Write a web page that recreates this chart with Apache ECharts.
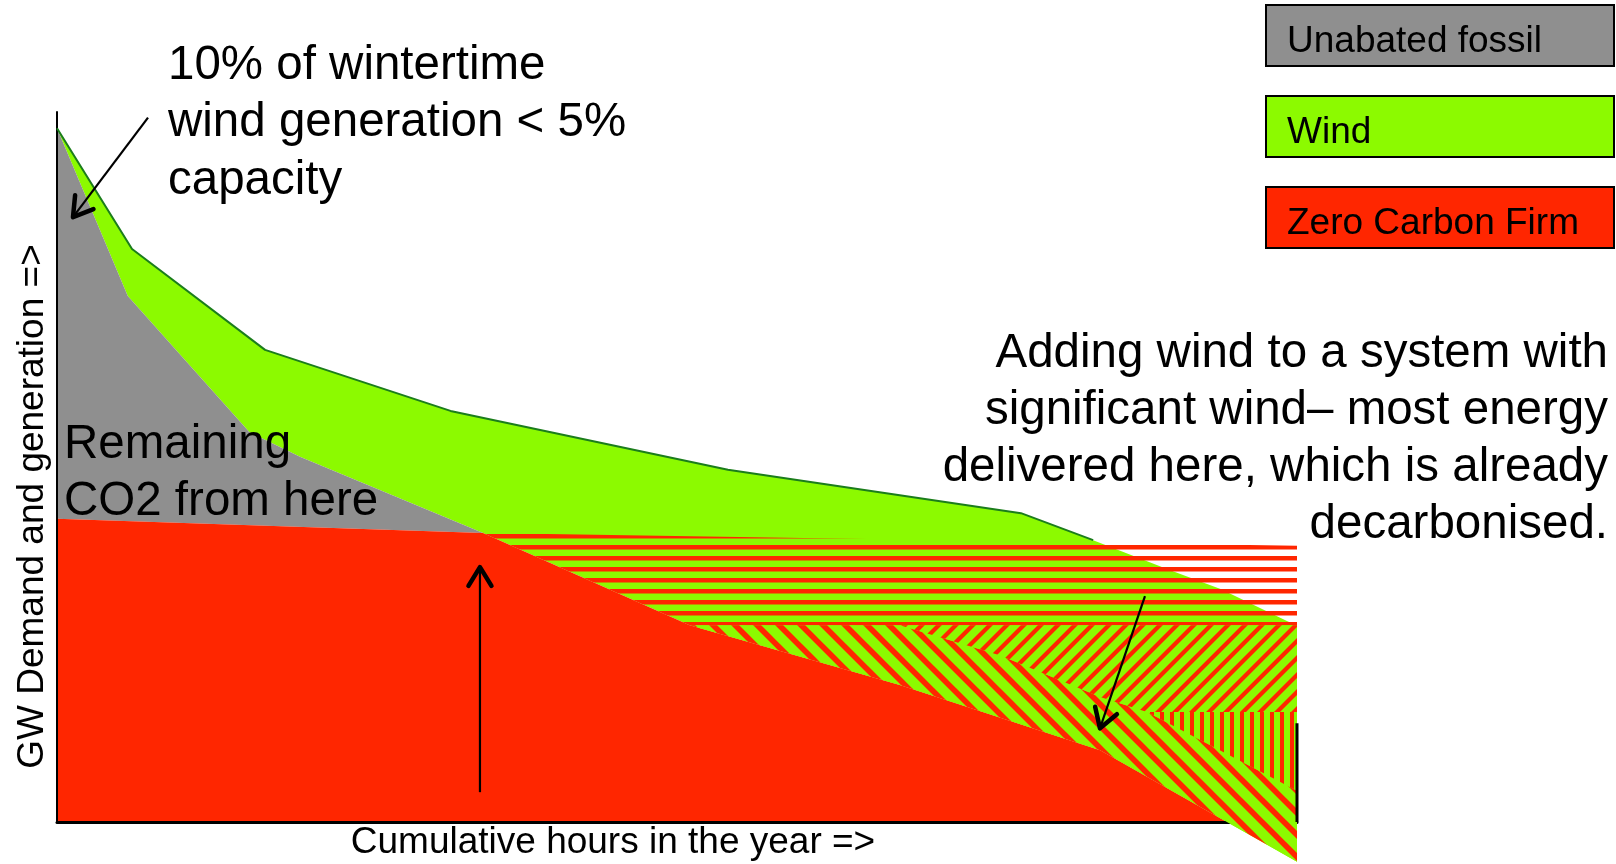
<!DOCTYPE html>
<html><head><meta charset="utf-8">
<script src="https://cdn.jsdelivr.net/npm/echarts@6/dist/echarts.min.js"></script>
<style>html,body{margin:0;padding:0;background:#fff}#c{width:1616px;height:864px}</style>
</head><body><div id="c"></div>
<script>
// x: cumulative hours in the year, y: GW (schematic units)
const demand        = [[0,97.7],[530,80.7],[1470,66.5],[2780,57.9],[4740,49.6],[6810,43.5],[7320,39.7],[7860,35.5],[8220,32.8],[8700,28.2],[8760,27.9]];
const netDemand     = [[0,97.7],[500,74.1],[1360,54.9],[1720,51.4],[3010,40.7],[4470,27.7],[5955,19.3],[7370,10.1],[8265,0],[8760,-5.6]];
const firm          = [[0,42.7],[3010,40.7]];
const firmExt       = [[3010,40.7],[8760,38.9]];
const netDemandPrev = [[5955,27.7],[6660,23.5],[7370,17.6],[7700,15.5],[8760,4.4]];
const levelA = 27.7;   // bottom of horizontal-hatched block
const levelC = 15.5;   // bottom of up-diagonal block (right part)
const rightEdge = [[8760,0],[8760,13.9]];
const arrows = [[643,99.2,113,85.2],[2988,4.2,2988,35.9],[7686,31.8,7368,13.2]];
const legendItems = ['Unabated fossil','Wind','Zero Carbon Firm'];

const RED = '#ff2600', GREEN = '#8cfa00', GRAY = '#8f8f8f', DKGREEN = '#1b7d1b';
const FONT = '"Liberation Sans", Arial, sans-serif';

function stripes(type, period, w, bg, off) {
  const c = document.createElement('canvas');
  c.width = period; c.height = period;
  const g = c.getContext('2d');
  if (bg) { g.fillStyle = bg; g.fillRect(0, 0, period, period); }
  g.fillStyle = RED; g.strokeStyle = RED;
  if (type === 'h') g.fillRect(0, off || 0, period, w);
  else if (type === 'v') g.fillRect(off || 0, 0, w, period);
  else {
    g.lineWidth = w;
    for (let k = -1; k <= 2; k++) {
      g.beginPath();
      if (type === 'back') { g.moveTo(k*period - 2, -2); g.lineTo(k*period + period + 2, period + 2); }
      else { g.moveTo(k*period + 2, -2); g.lineTo(k*period - period - 2, period + 2); }
      g.stroke();
    }
  }
  return { image: c, repeat: 'repeat' };
}

// polygons built from the curves
const polyFirm = firm.concat(netDemand.filter(p => p[0] > 3010 && p[1] >= 0), [[0,0]]);
const polyGray = netDemand.filter(p => p[0] <= 3010).concat(firm.slice(0, 1));
const polyWind = demand.concat(netDemand.slice().reverse());
const polyA = firmExt.concat([[8760, levelA]], netDemand.filter(p => p[0] >= 3010 && p[1] >= levelA).reverse());
const polyB = netDemand.filter(p => p[1] === levelA).concat(netDemandPrev, netDemand.filter(p => p[0] >= 4470).reverse());
const polyC = [[5955, levelA],[8760, levelA],[8760, levelC]].concat(netDemandPrev.filter(p => p[1] >= levelC).reverse());
const polyD = netDemandPrev.filter(p => p[1] <= levelC).concat([[8760, levelC]]);

function poly(name, pts, fill, z) {
  return {
    type: 'custom', name, z, silent: true, clip: false, data: [[0,0]],
    renderItem: (params, api) => ({
      type: 'polygon',
      shape: { points: pts.map(p => api.coord(p)) },
      style: { fill: fill }
    })
  };
}

function arrowItem(params, api) {
  const a = api.coord([api.value(0), api.value(1)]);
  const b = api.coord([api.value(2), api.value(3)]);
  const ang = Math.atan2(a[1] - b[1], a[0] - b[0]);
  const L = 22, s = 0.55;
  const p1 = [b[0] + L*Math.cos(ang + s), b[1] + L*Math.sin(ang + s)];
  const p2 = [b[0] + L*Math.cos(ang - s), b[1] + L*Math.sin(ang - s)];
  return { type: 'group', children: [
    { type: 'line', shape: { x1: a[0], y1: a[1], x2: b[0], y2: b[1] }, style: { stroke: '#000', lineWidth: 2.2 } },
    { type: 'polyline', shape: { points: [p1, b, p2] }, style: { stroke: '#000', lineWidth: 4.5, fill: null, lineCap: 'round', lineJoin: 'round' } }
  ]};
}

const chart = echarts.init(document.getElementById('c'), null, { renderer: 'canvas' });
const legendGraphics = [];
const legendColors = [GRAY, GREEN, RED];
legendItems.forEach((t, i) => {
  const y0 = 5 + i * 91;
  legendGraphics.push({ type: 'rect', z: 10, shape: { x: 1266, y: y0, width: 348, height: 61 }, style: { fill: legendColors[i], stroke: '#000', lineWidth: 2 } });
  legendGraphics.push({ type: 'text', z: 11, x: 1287, y: y0 + 37, style: { text: t, fontSize: 37, fontFamily: FONT, fill: '#000', verticalAlign: 'middle' } });
});

chart.setOption({
  animation: false,
  backgroundColor: '#fff',
  grid: { left: 57, top: 112, width: 1240, height: 710 },
  xAxis: { type: 'value', min: 0, max: 8760, z: 1.5,
    axisLine: { show: true, onZero: true, lineStyle: { color: '#000', width: 3 } },
    axisTick: { show: false }, axisLabel: { show: false }, splitLine: { show: false } },
  yAxis: { type: 'value', min: 0, max: 100, z: 1.5,
    axisLine: { show: true, lineStyle: { color: '#000', width: 2 } },
    axisTick: { show: false }, axisLabel: { show: false }, splitLine: { show: false } },
  series: [
    poly('Wind', polyWind, GREEN, 1),
    poly('Unabated fossil', polyGray, GRAY, 1),
    poly('Zero Carbon Firm', polyFirm, RED, 1),
    poly('Wind displacing firm', polyA, stripes('h', 11, 4.5, null, 6), 2),
    poly('Wind band', polyB, stripes('back', 22, 5.6, GREEN), 2),
    poly('Wind band 2', polyC, stripes('fwd', 17, 4.2, GREEN), 2),
    poly('Wind band 3', polyD, stripes('v', 10, 4, GREEN), 2),
    { type: 'line', name: 'Demand', z: 3, data: demand.filter(p => p[0] <= 7320), showSymbol: false, silent: true,
      lineStyle: { color: DKGREEN, width: 2 } },
    { type: 'line', name: 'edge', z: 3, data: rightEdge, showSymbol: false, silent: true,
      lineStyle: { color: '#000', width: 3 } },
    { type: 'custom', name: 'arrows', z: 4, silent: true, clip: false, data: arrows, renderItem: arrowItem }
  ],
  graphic: legendGraphics.concat([
    { type: 'text', z: 11, x: 168, y: 37, style: { text: '10% of wintertime\nwind generation < 5%\ncapacity', fontSize: 47.5, lineHeight: 57.5, fontFamily: FONT, fill: '#000', verticalAlign: 'top' } },
    { type: 'text', z: 11, x: 64, y: 416, style: { text: 'Remaining\nCO2 from here', fontSize: 47.5, lineHeight: 57, fontFamily: FONT, fill: '#000', verticalAlign: 'top' } },
    { type: 'text', z: 11, x: 1608, y: 325, style: { text: 'Adding wind to a system with\nsignificant wind\u2013 most energy\ndelivered here, which is already\ndecarbonised.', fontSize: 47.5, lineHeight: 57.2, fontFamily: FONT, fill: '#000', align: 'right', verticalAlign: 'top' } },
    { type: 'text', z: 11, x: 613, y: 843, style: { text: 'Cumulative hours in the year =>', fontSize: 37, fontFamily: FONT, fill: '#000', align: 'center', verticalAlign: 'middle' } },
    { type: 'text', z: 11, x: 33, y: 506.5, rotation: Math.PI / 2, style: { text: 'GW Demand and generation =>', fontSize: 37, fontFamily: FONT, fill: '#000', align: 'center', verticalAlign: 'middle' } }
  ])
});
</script>
</body></html>
